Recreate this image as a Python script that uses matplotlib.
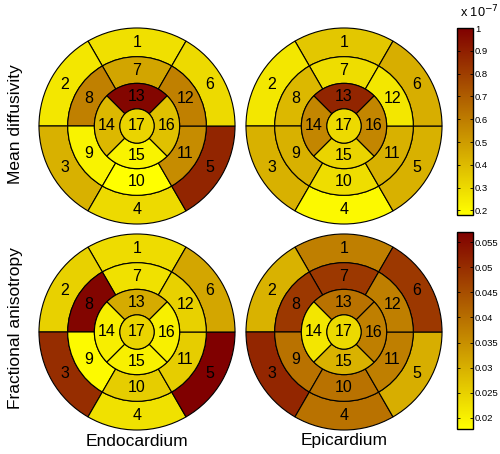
import matplotlib
matplotlib.use('Agg')
import matplotlib.pyplot as plt
import numpy as np
from matplotlib.patches import Wedge, Circle
from matplotlib.colors import LinearSegmentedColormap, Normalize

plt.rcParams['font.family'] = ['Liberation Sans', 'DejaVu Sans']

segments = list(range(1, 18))
# mean diffusivity, units of 1e-7
md_endo = [0.28, 0.26, 0.43, 0.30, 0.88, 0.30, 0.47, 0.59, 0.22, 0.18, 0.55, 0.59, 0.98, 0.41, 0.22, 0.38, 0.32]
md_epi = [0.36, 0.26, 0.43, 0.20, 0.43, 0.44, 0.29, 0.41, 0.43, 0.29, 0.43, 0.26, 0.88, 0.57, 0.32, 0.57, 0.30]
# fractional anisotropy
fa_endo = [0.0233, 0.0249, 0.0500, 0.0225, 0.0570, 0.0315, 0.0225, 0.0562, 0.0186, 0.0256, 0.0256, 0.0249, 0.0307, 0.0205, 0.0201, 0.0201, 0.0245]
fa_epi = [0.0374, 0.0296, 0.0511, 0.0394, 0.0303, 0.0484, 0.0484, 0.0484, 0.0394, 0.0394, 0.0374, 0.0374, 0.0394, 0.0217, 0.0296, 0.0374, 0.0237]

md_lim = (0.18, 1.0)
fa_lim = (0.0178, 0.057)
md_ticks = [0.2, 0.3, 0.4, 0.5, 0.6, 0.7, 0.8, 0.9, 1.0]
md_ticklabels = ['0.2', '0.3', '0.4', '0.5', '0.6', '0.7', '0.8', '0.9', '1']
fa_ticks = [0.02, 0.025, 0.03, 0.035, 0.04, 0.045, 0.05, 0.055]
fa_ticklabels = ['0.02', '0.025', '0.03', '0.035', '0.04', '0.045', '0.05', '0.055']

cmap = LinearSegmentedColormap.from_list('yr', [(1, 1, 0), (0.5, 0, 0)])

W, H = 500, 454
fig = plt.figure(figsize=(W / 100, H / 100), dpi=100)


def px_axes(x0, y0, x1, y1):
    return fig.add_axes([x0 / W, 1 - y1 / H, (x1 - x0) / W, (y1 - y0) / H])


radii = [1.0, 0.707, 0.435, 0.175]


def bullseye(ax, vals, norm):
    ax.set_xlim(-1.01, 1.01)
    ax.set_ylim(-1.01, 1.01)
    ax.set_aspect('equal')
    ax.axis('off')
    lw = 0.8
    # basal and mid rings, 6 segments each
    for ring in range(2):
        r_out = radii[ring]
        r_in = radii[ring + 1]
        for k in range(6):
            seg = ring * 6 + k
            t1 = 60 + 60 * k
            ax.add_patch(Wedge((0, 0), r_out, t1, t1 + 60, width=r_out - r_in,
                               facecolor=cmap(norm(vals[seg])), edgecolor='black', lw=lw))
            a = np.deg2rad(t1 + 30)
            rm = (r_out + r_in) / 2
            ax.text(rm * np.cos(a), rm * np.sin(a), str(segments[seg]),
                    ha='center', va='center', fontsize=11.5)
    # apical ring, 4 segments
    r_out, r_in = radii[2], radii[3]
    for k in range(4):
        seg = 12 + k
        t1 = 45 + 90 * k
        ax.add_patch(Wedge((0, 0), r_out, t1, t1 + 90, width=r_out - r_in,
                           facecolor=cmap(norm(vals[seg])), edgecolor='black', lw=lw))
        a = np.deg2rad(t1 + 45)
        rm = (r_out + r_in) / 2
        ax.text(rm * np.cos(a), rm * np.sin(a), str(segments[seg]),
                ha='center', va='center', fontsize=11.5)
    ax.add_patch(Circle((0, 0), radii[3], facecolor=cmap(norm(vals[16])),
                        edgecolor='black', lw=lw))
    ax.text(0, 0, str(segments[16]), ha='center', va='center', fontsize=11.5)


md_norm = Normalize(*md_lim)
fa_norm = Normalize(*fa_lim)

bullseye(px_axes(38, 27, 236, 225), md_endo, md_norm)
bullseye(px_axes(245, 27, 443, 225), md_epi, md_norm)
bullseye(px_axes(38, 233, 236, 431), fa_endo, fa_norm)
bullseye(px_axes(245, 233, 443, 431), fa_epi, fa_norm)


def colorbar(rect, norm, ticks, labels):
    cax = px_axes(*rect)
    sm = plt.cm.ScalarMappable(norm=norm, cmap=cmap)
    cb = fig.colorbar(sm, cax=cax)
    cb.set_ticks(ticks)
    cb.set_ticklabels(labels)
    cb.outline.set_linewidth(1.0)
    cax.tick_params(direction='in', length=2.5, width=0.6, left=True, right=True,
                    labelsize=6.8, pad=1.5)
    return cax


colorbar((457, 28, 473, 215), md_norm, md_ticks, md_ticklabels)
colorbar((457, 232, 473, 429), fa_norm, fa_ticks, fa_ticklabels)
fig.text(460 / W, 1 - 12 / H, 'x 10$^{-7}$', ha='left', va='center', fontsize=9.2)

fig.text(16 / W, 1 - 124 / H, 'Mean diffusivity', rotation=90, ha='center', va='center', fontsize=12.5)
fig.text(16 / W, 1 - 328 / H, 'Fractional anisotropy', rotation=90, ha='center', va='center', fontsize=12.5)
fig.text(137 / W, 1 - 441 / H, 'Endocardium', ha='center', va='center', fontsize=12.5)
fig.text(344 / W, 1 - 441 / H, 'Epicardium', ha='center', va='center', fontsize=12.5)

fig.savefig('out.png', dpi=100)
